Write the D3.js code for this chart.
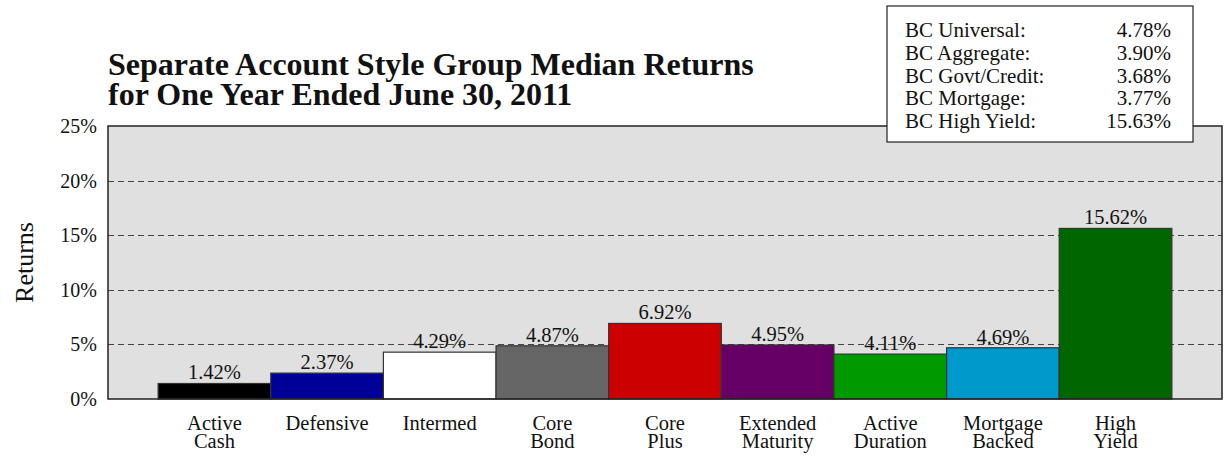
<!DOCTYPE html>
<html>
<head>
<meta charset="utf-8">
<script src="https://cdn.jsdelivr.net/npm/d3@7"></script>
<style>
  html, body { margin: 0; padding: 0; background: #fff; }
  svg { display: block; font-family: "Liberation Serif", "Times New Roman", serif; }
</style>
</head>
<body>
<svg id="chart" width="1225" height="466"></svg>
<script>
// Style groups (two-line labels) and their median returns, in percent
const categories = [
  ["Active", "Cash"],
  ["Defensive"],
  ["Intermed"],
  ["Core", "Bond"],
  ["Core", "Plus"],
  ["Extended", "Maturity"],
  ["Active", "Duration"],
  ["Mortgage", "Backed"],
  ["High", "Yield"]
];
const returns = [1.42, 2.37, 4.29, 4.87, 6.92, 4.95, 4.11, 4.69, 15.62];
const barColors = ["#000000", "#000099", "#ffffff", "#666666", "#cc0000", "#660066", "#009900", "#0099cc", "#006600"];

// Benchmark index returns
const benchmarkNames = ["BC Universal:", "BC Aggregate:", "BC Govt/Credit:", "BC Mortgage:", "BC High Yield:"];
const benchmarkValues = [4.78, 3.90, 3.68, 3.77, 15.63];

const yTicks = [0, 5, 10, 15, 20, 25];

const svg = d3.select("#chart");
const plot = { left: 108, right: 1222, top: 126, bottom: 399 };

const keys = categories.map(c => c.join(" "));
const x = d3.scaleBand()
  .domain(keys)
  .range([plot.left, plot.right])
  .paddingInner(0)
  .paddingOuter(0.445);

const y = d3.scaleLinear()
  .domain([0, 25])
  .range([plot.bottom, plot.top]);

// Plot background
svg.append("rect")
  .attr("x", plot.left).attr("y", plot.top)
  .attr("width", plot.right - plot.left).attr("height", plot.bottom - plot.top)
  .attr("fill", "#e0e0e0");

// Dashed gridlines
svg.append("g")
  .selectAll("line")
  .data(yTicks.filter(t => t > 0 && t < 25))
  .join("line")
  .attr("x1", plot.left).attr("x2", plot.right)
  .attr("y1", d => Math.round(y(d)) + 0.5).attr("y2", d => Math.round(y(d)) + 0.5)
  .attr("stroke", "#444")
  .attr("stroke-width", 1)
  .attr("stroke-dasharray", "6,4");

// Bars
svg.append("g")
  .selectAll("rect")
  .data(returns)
  .join("rect")
  .attr("x", (d, i) => x(keys[i]))
  .attr("y", d => y(d))
  .attr("width", x.bandwidth())
  .attr("height", d => y(0) - y(d))
  .attr("fill", (d, i) => barColors[i])
  .attr("stroke", "#333")
  .attr("stroke-width", 1.2);

// Value labels above bars
svg.append("g")
  .selectAll("text")
  .data(returns)
  .join("text")
  .attr("x", (d, i) => x(keys[i]) + x.bandwidth() / 2)
  .attr("y", d => y(d) - 4)
  .attr("text-anchor", "middle")
  .attr("font-size", 20.5)
  .attr("fill", "#111")
  .text(d => d.toFixed(2) + "%");

// Plot frame
svg.append("rect")
  .attr("x", plot.left).attr("y", plot.top)
  .attr("width", plot.right - plot.left).attr("height", plot.bottom - plot.top)
  .attr("fill", "none")
  .attr("stroke", "#222")
  .attr("stroke-width", 1.5);

// Y axis
const yAxis = d3.axisLeft(y)
  .tickValues(yTicks)
  .tickFormat(d => d + "%")
  .tickSize(0)
  .tickPadding(11);
const gy = svg.append("g")
  .attr("transform", `translate(${plot.left},0)`)
  .call(yAxis);
gy.select(".domain").remove();
gy.selectAll("text")
  .attr("font-family", "Liberation Serif, Times New Roman, serif")
  .attr("font-size", 20)
  .attr("fill", "#111");

// X axis with two-line category labels
const xAxis = d3.axisBottom(x).tickSize(0).tickFormat("");
const gx = svg.append("g")
  .attr("transform", `translate(0,${plot.bottom})`)
  .call(xAxis);
gx.select(".domain").remove();
gx.selectAll(".tick").each(function (d, i) {
  const t = d3.select(this).append("text")
    .attr("text-anchor", "middle")
    .attr("font-family", "Liberation Serif, Times New Roman, serif")
    .attr("font-size", 20.5)
    .attr("fill", "#111");
  categories[i].forEach((line, j) => {
    t.append("tspan").attr("x", 0).attr("y", 30.5 + j * 18).text(line);
  });
});

// Y axis title
svg.append("text")
  .attr("transform", `translate(33,${(plot.top + plot.bottom) / 2}) rotate(-90)`)
  .attr("text-anchor", "middle")
  .attr("font-size", 26)
  .attr("fill", "#111")
  .text("Returns");

// Chart title
const title = svg.append("text")
  .attr("x", plot.left)
  .attr("font-size", 32)
  .attr("font-weight", "bold")
  .attr("fill", "#111");
title.append("tspan").attr("x", plot.left).attr("y", 75).text("Separate Account Style Group Median Returns");
title.append("tspan").attr("x", plot.left).attr("y", 105).text("for One Year Ended June 30, 2011");

// Benchmark box
const box = { x: 887, y: 6, w: 306, h: 136 };
svg.append("rect")
  .attr("x", box.x).attr("y", box.y)
  .attr("width", box.w).attr("height", box.h)
  .attr("fill", "#fff")
  .attr("stroke", "#222")
  .attr("stroke-width", 1.2);
const rowY = d3.scalePoint()
  .domain(benchmarkNames)
  .range([37, 128]);
const legend = svg.append("g");
legend.selectAll("text.name")
  .data(benchmarkNames)
  .join("text")
  .attr("class", "name")
  .attr("x", 905)
  .attr("y", d => rowY(d))
  .attr("font-size", 21)
  .attr("fill", "#111")
  .text(d => d);
legend.selectAll("text.val")
  .data(benchmarkValues)
  .join("text")
  .attr("class", "val")
  .attr("x", 1171)
  .attr("y", (d, i) => rowY(benchmarkNames[i]))
  .attr("text-anchor", "end")
  .attr("font-size", 21)
  .attr("fill", "#111")
  .text(d => d.toFixed(2) + "%");
</script>
</body>
</html>
